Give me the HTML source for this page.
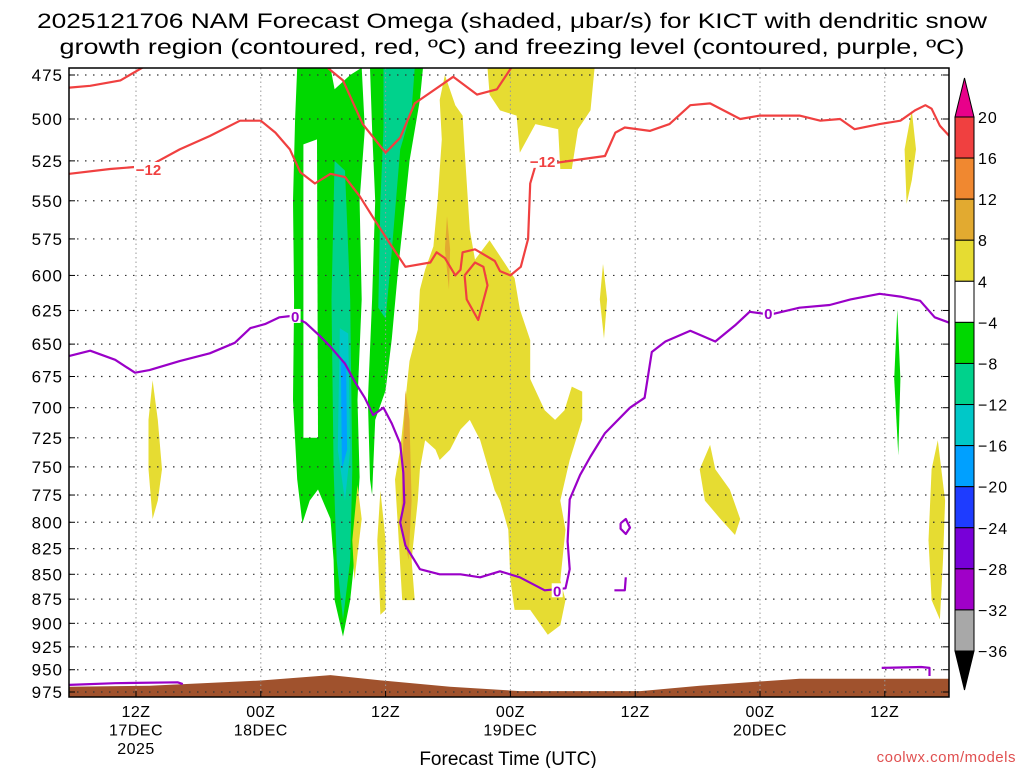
<!DOCTYPE html>
<html><head><meta charset="utf-8"><style>
html,body{margin:0;padding:0;background:#fff;width:1024px;height:768px;overflow:hidden}
svg{display:block;font-family:"Liberation Sans",sans-serif}
</style></head><body>
<svg id="chart" width="1024" height="768" viewBox="0 0 1024 768" xmlns="http://www.w3.org/2000/svg">
<text x="512" y="28" font-size="21" text-anchor="middle" textLength="950" lengthAdjust="spacingAndGlyphs">2025121706 NAM Forecast Omega (shaded, μbar/s) for KICT with dendritic snow</text>
<text x="512" y="54" font-size="21" text-anchor="middle" textLength="905" lengthAdjust="spacingAndGlyphs">growth region (contoured, red, ºC) and freezing level (contoured, purple, ºC)</text>
<g id="fills"></g>
<g id="grid"></g>
<g id="contours"></g>
<rect x="69" y="68" width="880" height="629" fill="none" stroke="#000" stroke-width="1.5"/>
<g id="axes"></g>
<g id="cbar"></g>
<text x="508" y="765" font-size="19" text-anchor="middle">Forecast Time (UTC)</text>
<text x="1016" y="762" font-size="15" text-anchor="end" fill="#e05050" letter-spacing="0.5">coolwx.com/models</text>
</svg>
<script>
const pLevels=[475,500,525,550,575,600,625,650,675,700,725,750,775,800,825,850,875,900,925,950,975];
const xTickHours=[12,24,36,48,60,72,84];
const xTickLines=[["12Z","17DEC","2025"],["00Z","18DEC"],["12Z"],["00Z","19DEC"],["12Z"],["00Z","20DEC"],["12Z"]];
const cbLevels=[20,16,12,8,4,-4,-8,-12,-16,-20,-24,-28,-32,-36];
const cbColors=["#f04040","#f08830","#e2aa30","#e6dc32","#ffffff","#00d800","#00d28c","#00c8c8","#00a0ff","#1e3cff","#7800d8","#a000c8","#a8a8a8"];
const COL={g:"#00d800",t:"#00d28c",c:"#00c8c8",b:"#00a0ff",y:"#e6dc32",o:"#e2aa30",w:"#ffffff"};
const greenA=[[27.5,471],[30.7,471],[31.1,483],[32.6,475],[33.7,471],[34,506],[33.5,550],[33.7,617],[33.3,694],[33.5,759],[33,836],[32.6,876],[31.9,914],[31.1,876],[31,836],[30.7,797],[29.5,770],[28.7,780],[28,801],[27.5,761],[27.1,694],[27.2,617],[27.1,550],[27.3,500]];
const holeA=[[28.1,515],[29.4,512],[29.5,725],[28.1,725]];
const greenB=[[34.5,471],[39.6,471],[39.3,489],[38.3,525],[37.9,550],[37.2,596],[36.6,646],[36,686],[35,710],[34.7,775],[34.5,761],[34.3,694],[34.7,617],[35,550],[34.7,506]];
const tealB=[[35.8,471],[38.8,471],[38.5,495],[37.4,518],[36.6,583],[36,631],[35.3,623],[35.5,550],[35.8,506]];
const tealA=[[31.1,525],[32.1,531],[32.6,617],[32.8,752],[32.6,836],[31.9,896],[31.3,836],[31,752],[30.8,617]];
const cyanA=[[31.6,638],[32.4,642],[32.6,735],[32.1,780],[31.4,735]];
const blueA=[[31.7,663],[32.2,663],[32.3,735],[31.8,752]];
const yellowTop=[[45.8,471],[56.1,471],[55.7,495],[54.5,506],[53.9,530],[52.8,530],[52.6,506],[50.4,503],[48.9,520],[48.6,498],[47,495],[46,486]];
const yellowMain=[[41.7,475],[42.7,492],[43.4,498],[43.6,518],[44.1,569],[44.6,589],[46,576],[47.5,592],[48.4,602],[48.9,624],[49.9,647],[49.9,677],[51.3,702],[52.3,710],[53.2,702],[53.9,683],[54.9,687],[54.9,710],[53.7,744],[52.8,780],[53.3,807],[52.8,856],[53.3,876],[52.8,902],[51.6,912],[49.9,886],[48.4,886],[48,856],[47.8,807],[47,780],[46.5,771],[45.1,727],[44.1,710],[43.2,718],[42.2,735],[41.2,744],[40.8,735],[39.8,727],[39.3,752],[39.1,780],[38.5,836],[38.8,876],[37.6,876],[37.2,807],[36.9,761],[37.4,735],[37.9,694],[38.3,663],[39.1,639],[39.3,610],[39.8,596],[40.6,580],[41,550],[41.4,512],[41.2,489]];
const yellowLeft=[[13.6,678],[14.1,710],[14.5,752],[14.1,780],[13.6,797],[13.2,752],[13.2,710]];
const yellowS1=[[35.5,771],[36,817],[36,886],[35.5,891],[35.2,817]];
const yellowS2=[[33.3,766],[33.7,797],[33,856],[32.8,817]];
const yellowR1=[[86.6,495],[87,518],[86.6,537],[86.1,552],[85.9,518]];
const yellowS3=[[56.9,592],[57.3,617],[57,646],[56.6,617]];
const yellowR2=[[67.2,731],[67.7,752],[69.1,770],[70.1,797],[69.6,812],[68.2,797],[66.7,780],[66.2,752]];
const yellowR3=[[89.1,727],[89.8,780],[89.6,836],[89.3,896],[88.5,876],[88.2,817],[88.5,752]];
const greenR=[[85.2,624],[85.5,677],[85.3,740],[84.9,677]];
const orange1=[[37.9,686],[38.3,710],[38.5,780],[38.2,836],[37.5,797],[37.7,727]];
const orange2=[[41.9,560],[42.2,582],[42.1,610],[41.7,582]];
const terrain=[[5.6,969],[13.3,968],[24,962],[30.7,956],[35.7,962],[42.2,969],[48.9,974],[60.5,974],[66.2,968],[75.8,960],[85.5,960],[90.2,960]];
const red1=[[5.6,482],[7.6,481],[10.5,478],[12.9,470]];
const red2=[[5.6,533],[9.5,530],[13.3,528],[16.2,518],[19.1,510],[22,501],[24,501],[25.4,508],[26.8,518],[27.8,532],[29.2,539],[30.7,533],[32.1,535],[33.5,547],[35,563],[36.4,578],[37.9,594],[40.3,591],[40.9,584],[41.7,588],[42.7,600],[43.2,596],[43.4,584],[44.6,582],[46.5,590],[47,597],[48,600],[49,594],[49.7,575],[49.9,539],[50.4,528],[53.7,525],[57.1,522],[58.1,508],[59,505],[61.4,507],[63.3,503],[65.3,492],[67.2,491],[70.1,500],[72,498],[75.8,498],[77.8,501],[79.7,500],[81.1,506],[83.5,503],[85.5,501],[86.9,495],[87.9,492],[88.5,494],[89.3,504],[90.2,510]];
const red3=[[30.2,470],[31.9,478],[33.8,503],[36,520],[37.4,511],[38.8,491],[42.5,476],[44.8,486],[46.7,483],[48.2,470]];
const redLoop=[[43.6,600],[44.6,591],[45.4,594],[45.8,607],[44.9,632],[43.8,617],[43.6,600]];
const purple1=[[5.6,659],[7.6,655],[10,662],[11.9,672],[13.3,670],[16.2,663],[19.1,657],[21.5,649],[23,638],[24.4,635],[25.8,630],[27,629],[28.3,634],[29.7,644],[30.7,652],[32.1,665],[33.1,680],[34,692],[34.8,706],[35.8,700],[36.6,713],[37.4,730],[37.7,755],[37.8,782],[37.4,800],[37.9,822],[39.3,845],[41.2,850],[43.2,850],[45.1,853],[47,847],[48.9,853],[51.3,866],[53.3,864],[53.7,845],[53.5,818],[53.7,779],[54.7,757],[55.7,741],[57.1,721],[59.5,700],[60.9,692],[61.6,656],[62.9,648],[65.3,640],[67.7,648],[69.6,636],[71,626],[73,628],[75.8,623],[78.7,621],[80.7,617],[83.5,613],[85.5,615],[87.4,618],[88.8,630],[90.2,634]];
const purpleLoop=[[58.6,801],[59.1,797],[59.5,805],[59.1,811],[58.6,806],[58.6,801]];
const purpleS=[[58,866],[59,866],[59.1,853]];
const purpleBL=[[5.6,967],[10,965],[16,964],[16.5,966]];
const purpleBR=[[83.7,948],[87.5,947],[88.3,948],[88.3,957]];
const labelsRed=[["-12",13.2,530],["-12",51.1,525]];
const labelsPurple=[["0",27.3,629],["0",52.5,866],["0",72.8,627]];

const NS="http://www.w3.org/2000/svg";
const X=h=>136+10.4*(h-12);
const Y=p=>75+858*Math.log(p/475);
function mk(tag,parent,attrs){const e=document.createElementNS(NS,tag);for(const k in attrs)e.setAttribute(k,attrs[k]);parent.appendChild(e);return e;}
const pts=a=>a.map(d=>X(d[0]).toFixed(1)+","+Y(d[1]).toFixed(1)).join(" ");
const svg=document.getElementById('chart');
const cp=mk('clipPath',svg,{id:'clip'});mk('rect',cp,{x:69,y:68,width:880,height:629});
const fills=document.getElementById('fills');
fills.setAttribute('clip-path','url(#clip)');
function poly(arr,color,name){const e=mk('polygon',fills,{points:pts(arr),fill:color});

}
poly(greenA,COL.g,'green-region-a');poly(holeA,COL.w,'white-gap-a');poly(greenB,COL.g,'green-region-b');
poly(tealB,COL.t,'teal-region-b');poly(tealA,COL.t,'teal-region-a');poly(cyanA,COL.c,'cyan-region');poly(blueA,COL.b,'blue-region');
poly(yellowTop,COL.y,'yellow-region-top');poly(yellowMain,COL.y,'yellow-region-main');poly(yellowLeft,COL.y,'yellow-region-left');
poly(yellowS1,COL.y,'yellow-region-s1');poly(yellowS2,COL.y,'yellow-region-s2');poly(yellowR1,COL.y,'yellow-region-r1');
poly(yellowS3,COL.y,'yellow-region-s3');poly(yellowR2,COL.y,'yellow-region-r2');poly(yellowR3,COL.y,'yellow-region-r3');
poly(greenR,COL.g,'green-region-right');poly(orange1,COL.o,'orange-region-1');poly(orange2,COL.o,'orange-region-2');
const terr=terrain.concat([[90.2,990],[5.6,990]]);
const te=mk('polygon',fills,{points:pts(terr),fill:'#a0522d'});



const grid=document.getElementById('grid'),axes=document.getElementById('axes');
pLevels.forEach(p=>{const y=Y(p);
 const l=mk('line',grid,{x1:69,x2:949,y1:y,y2:y,stroke:'#333','stroke-width':1.2,'stroke-dasharray':'1.5 6.5'});
 
 
 const t=mk('text',axes,{x:63,y:y+6,'font-size':17,'text-anchor':'end','letter-spacing':1});t.textContent=p;
 
 
 mk('line',axes,{x1:69,x2:75,y1:y,y2:y,stroke:'#000'});mk('line',axes,{x1:943,x2:949,y1:y,y2:y,stroke:'#000'});
});
xTickHours.forEach((h,i)=>{const x=X(h);
 const l=mk('line',grid,{x1:x,x2:x,y1:68,y2:697,stroke:'#999','stroke-width':1,'stroke-dasharray':'1.5 3'});
 
 
 mk('line',axes,{x1:x,x2:x,y1:691,y2:697,stroke:'#000'});
 xTickLines[i].forEach((s,j)=>{const t=mk('text',axes,{x:x,y:717+j*18.5,'font-size':16,'text-anchor':'middle','letter-spacing':0.5});t.textContent=s;
 
 });
});
const cg=document.getElementById('contours');cg.setAttribute('clip-path','url(#clip)');
function line(arr,color,name){const e=mk('polyline',cg,{points:pts(arr),fill:'none',stroke:color,'stroke-width':2.2,'stroke-linejoin':'round'});

}
const RED="#f04040",PUR="#9a00c8";
line(red1,RED,'snow-growth-contour-1');line(red2,RED,'snow-growth-contour-2');line(red3,RED,'snow-growth-contour-3');line(redLoop,RED,'snow-growth-loop');
line(purple1,PUR,'freezing-level-contour');line(purpleLoop,PUR,'freezing-loop');line(purpleS,PUR,'freezing-small');line(purpleBL,PUR,'freezing-bottom-left');line(purpleBR,PUR,'freezing-bottom-right');
function lab(a,color){const x=X(a[1]),y=Y(a[2]);const w=a[0].length*9+2;
 mk('rect',cg,{x:x-w/2,y:y-7,width:w,height:14,fill:'#fff'});
 const t=mk('text',cg,{x:x,y:y+6,'font-size':15,'font-weight':'bold','text-anchor':'middle',fill:color});t.textContent=a[0].replace('-','−');
 
 }
labelsRed.forEach(a=>lab(a,RED));labelsPurple.forEach(a=>lab(a,PUR));
const cb=document.getElementById('cbar');const cy0=117,cstep=(651-117)/13,cx=955,cw=19;
const tt=mk('polygon',cb,{points:`${cx},${cy0} ${cx+cw},${cy0} ${cx+cw/2},78`,fill:'#e8008a',stroke:'#000'});


cbColors.forEach((c,i)=>{const r=mk('rect',cb,{x:cx,y:cy0+i*cstep,width:cw,height:cstep,fill:c,stroke:'#000','stroke-width':1});
 
 });
const bt=mk('polygon',cb,{points:`${cx},651 ${cx+cw},651 ${cx+cw/2},690`,fill:'#000',stroke:'#000'});


cbLevels.forEach((v,i)=>{const t=mk('text',cb,{x:978,y:cy0+i*cstep+6,'font-size':16,'letter-spacing':1});t.textContent=(v<0?'−':'')+Math.abs(v);
 
 });
</script>
</body></html>
